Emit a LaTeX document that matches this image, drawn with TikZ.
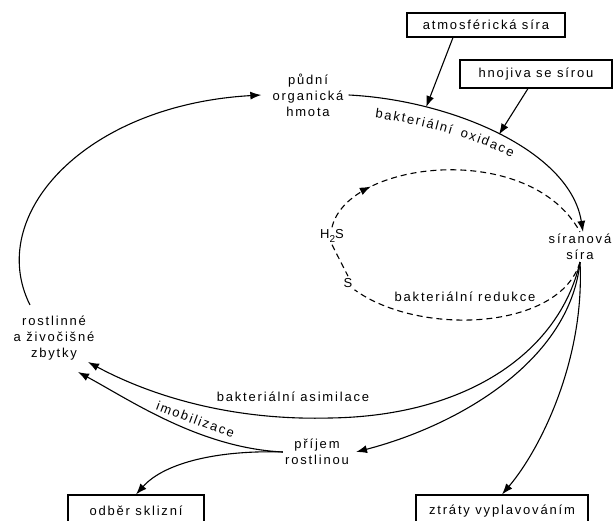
\documentclass[tikz,border=0pt]{standalone}
\usepackage{fontspec}
\setmainfont{Liberation Sans}
\newfontfamily\labfont{Liberation Sans}[LetterSpace=14]
\usetikzlibrary{arrows.meta,decorations.markings,decorations.text}
\newcommand{\labsize}{\labfont\fontsize{13}{16}\selectfont}

\begin{document}
\begin{tikzpicture}[x=1pt,y=-1pt,
  every node/.style={font=\labsize,inner sep=2pt,align=center},
  box/.style={draw,line width=1.1pt,minimum height=24pt},
  arr/.style={-{Latex[length=11pt,width=8pt]},line width=1.1pt},
  rarr/.style={{Latex[length=11pt,width=8pt]}-,line width=1.1pt},
  dashedline/.style={line width=1.1pt,dash pattern=on 6pt off 4pt},
  curvetext/.style={decorate,decoration={text effects along path,text={#1},text align=center,
    text effects/.cd,text along path,
    characters={font=\labsize,inner sep=0pt},
    character widths={font=\labsize,inner xsep=0.9pt,inner ysep=0pt}}}
]
\path[use as bounding box,clip] (0,0) rectangle (616,521);

% sources and sinks
\node[box,minimum width=158pt] (atm) at (486,25) {atmosférická síra};
\node[box,minimum width=152pt,minimum height=28pt] (hnoj) at (536,74) {hnojiva se sírou};
\node[box,minimum width=136pt,minimum height=32pt] (odber) at (136,511) {odběr sklizní};
\node[box,minimum width=172pt,minimum height=32pt] (ztraty) at (502,511) {ztráty vyplavováním};

% pools
\node (pudni) at (308,95) {půdní\\organická\\hmota};
\node (siran) at (580,247) {síranová\\síra};
\node (zbytky) at (54,338) {rostlinné\\a živočišné\\zbytky};
\node (prijem) at (317,452) {příjem\\rostlinou};
\node (h2s) at (332,236) {H\raisebox{-4pt}{\fontsize{10}{10}\selectfont 2}S};
\node (s) at (348,283) {S};
\node (redukce) at (465,297) {bakteriální redukce};
\node (asim) at (293,397) {bakteriální asimilace};

\coordinate (zTop) at (30,305);
\coordinate (zA) at (88,362);
\coordinate (zB) at (78,372);

% outer cycle
\draw[arr] (zTop) .. controls (-15,215) and (85,105) .. ([xshift=-9pt]pudni.west);
\draw[arr] ([xshift=3pt]pudni.east) .. controls (450,100) and (570,150) .. ([xshift=3pt]siran.north)
  coordinate[pos=0.25] (oxA) coordinate[pos=0.5] (oxB);
\draw[arr] ([xshift=-33pt]atm.south) -- (oxA);
\draw[arr] ([xshift=-8pt]hnoj.south) -- (oxB);
\path[curvetext={bakteriální oxidace}] (352,115) .. controls (415,121) and (482,139) .. (532,168);

% inner cycle
\draw[dashedline,postaction={decorate,decoration={markings,
    mark=at position 0.2 with {\arrow{Latex[length=11pt,width=8pt]}}}}]
  (h2s.north) .. controls (348,160) and (530,140) .. (siran.north);
\draw[dashedline] (siran.south) .. controls (560,330) and (420,337) .. (s.south east);
\draw[dashedline] (h2s.south) -- (s.north);

% from sulfate
\draw[arr] (siran.south) .. controls (560,350) and (470,416) .. (330,418)
  .. controls (220,421) and (140,390) .. (zA);
\draw[arr] (siran.south) .. controls (570,360) and (460,425) .. ([xshift=5pt]prijem.east);
\draw[arr] (siran.south) .. controls (585,360) and (540,450) .. (ztraty.north);

% from uptake
\draw[rarr] (zB) .. controls (130,400) and (200,448) .. (prijem.west);
\path[curvetext={imobilizace}] (146,406) .. controls (178,418) and (208,430) .. (242,441);
\draw[arr] (prijem.west) .. controls (220,450) and (165,462) .. (odber.north);
\end{tikzpicture}
\end{document}
